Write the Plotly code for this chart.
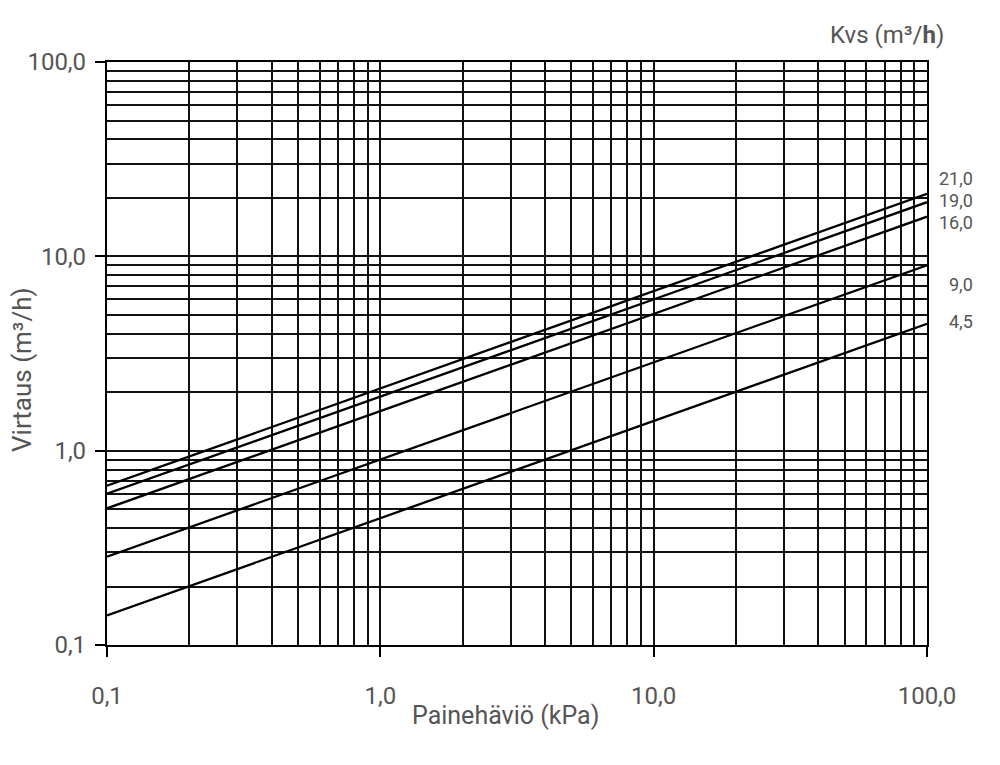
import plotly.graph_objects as go

# Data (straight lines in log-log space)
kvs_values = [21.0, 19.0, 16.0, 9.0, 4.5]
kvs_labels = ["21,0", "19,0", "16,0", "9,0", "4,5"]
dp_points = [0.1, 100.0]                 # kPa, start and end of each line
flow_at_start = [0.66, 0.60, 0.505, 0.285, 0.142]   # m3/h at 0.1 kPa
flow_at_end = [21.0, 19.0, 16.0, 9.0, 4.5]           # m3/h at 100 kPa

x_tickvals = [0.1, 1, 10, 100]
x_ticktext = ["0,1", "1,0", "10,0", "100,0"]
y_tickvals = [0.1, 1, 10, 100]
y_ticktext = ["0,1", "1,0", "10,0", "100,0"]
minor_vals = [m * d for d in (0.1, 1, 10) for m in range(2, 10)]

label_y_px = [178, 200, 222, 284, 321]   # screen pixel centres of Kvs labels

FONT = "Roboto"
GRAY = "#555555"
OFF = 8  # page body margin offset

W, H = 1000 - OFF, 765 - OFF
PL, PR, PT, PB = 107, 927, 62, 645  # plot area in screen pixels
L, T = PL - OFF, PT - OFF
R = W - (PR - OFF)
B = H - (PB - OFF)
pw, ph = PR - PL, PB - PT


def px(x):
    return (x - PL) / pw


def py(y):
    return (PB - y) / ph


fig = go.Figure()
for s, e in zip(flow_at_start, flow_at_end):
    fig.add_trace(go.Scatter(x=dp_points, y=[s, e], mode="lines",
                             line=dict(color="black", width=2.3),
                             showlegend=False, hoverinfo="skip"))

axis_common = dict(
    type="log", range=[-1, 2], showgrid=True, gridcolor="#111111", gridwidth=1.6,
    showline=True, linecolor="black", linewidth=2.2, mirror=True,
    ticks="outside", ticklen=10, tickwidth=1.6, tickcolor="black",
    tickfont=dict(family=FONT, size=24, color=GRAY),
    zeroline=False,
    minor=dict(tickmode="array", tickvals=minor_vals, showgrid=True,
               gridcolor="#111111", gridwidth=1.6, ticks=""),
)

fig.update_xaxes(**axis_common, tickmode="array", tickvals=x_tickvals,
                 ticktext=x_ticktext, ticklabelstandoff=18)
fig.update_yaxes(**axis_common, tickmode="array", tickvals=y_tickvals,
                 ticktext=y_ticktext, ticklabelstandoff=4)

annotations = []
for lab, yy in zip(kvs_labels, label_y_px):
    annotations.append(dict(x=px(975), y=py(yy), xref="paper", yref="paper",
                            text=lab, showarrow=False, xanchor="right", yanchor="middle",
                            font=dict(family=FONT, size=18, color=GRAY)))

annotations.append(dict(x=px(946), y=py(35), xref="paper", yref="paper",
                        text="Kvs (m³/<b>h</b>)", showarrow=False, xanchor="right", yanchor="middle",
                        font=dict(family=FONT, size=24, color=GRAY)))
annotations.append(dict(x=px(505), y=py(715), xref="paper", yref="paper",
                        text="Painehäviö (kPa)", showarrow=False, xanchor="center", yanchor="middle",
                        font=dict(family=FONT, size=25, color=GRAY)))
annotations.append(dict(x=px(22), y=py(370), xref="paper", yref="paper",
                        text="Virtaus (m³/h)", showarrow=False, textangle=-90,
                        xanchor="center", yanchor="middle",
                        font=dict(family=FONT, size=26, color=GRAY)))

fig.update_layout(width=W, height=H, margin=dict(l=L, r=R, t=T, b=B, autoexpand=False),
                  paper_bgcolor="white", plot_bgcolor="white",
                  annotations=annotations, showlegend=False)

fig.write_html("out.html")
